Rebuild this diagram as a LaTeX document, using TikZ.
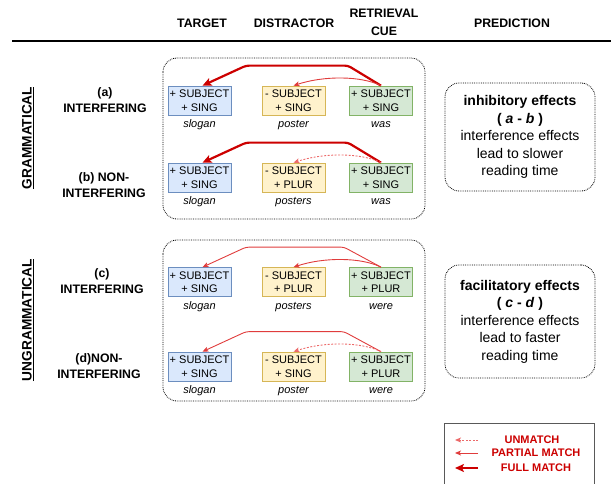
\documentclass[tikz,border=0pt]{standalone}
\usepackage{fontspec}
\setmainfont{Liberation Sans}
\usetikzlibrary{positioning,arrows.meta}

\definecolor{tgtfill}{HTML}{DAE8FC}
\definecolor{tgtline}{HTML}{6C8EBF}
\definecolor{disfill}{HTML}{FFF2CC}
\definecolor{disline}{HTML}{D6B656}
\definecolor{cuefill}{HTML}{D5E8D4}
\definecolor{cueline}{HTML}{82B366}
\definecolor{matchred}{HTML}{CC0000}
\definecolor{partred}{HTML}{E03C3C}
\definecolor{unred}{HTML}{EC6A6A}

\tikzset{
  feat/.style={draw, line width=0.7pt, minimum width=63pt, minimum height=29pt, inner sep=0pt,
    align=center, font=\fontsize{11}{13.5}\selectfont},
  tgt/.style={feat, fill=tgtfill, draw=tgtline},
  dis/.style={feat, fill=disfill, draw=disline},
  cue/.style={feat, fill=cuefill, draw=cueline},
  word/.style={font=\fontsize{11}{13}\selectfont\itshape, text height=8pt, text depth=2.5pt},
  head/.style={font=\fontsize{12.3}{18}\selectfont\bfseries, align=center},
  cond/.style={font=\fontsize{12.3}{16}\selectfont\bfseries, align=center},
  side/.style={rotate=90, font=\fontsize{13.7}{16}\selectfont\bfseries},
  group/.style={densely dotted, line width=0.8pt, rounded corners=14pt},
  pred/.style={group, draw, minimum width=150pt, align=center, font=\fontsize{14}{17.5}\selectfont},
  full/.style={draw=matchred, line width=2.2pt, rounded corners=3pt,
    -{Stealth[length=9pt,width=8pt,inset=2pt]}},
  partial/.style={draw=partred, line width=0.9pt, -{Stealth[length=6pt,width=5pt,inset=1.5pt]}},
  unmatch/.style={draw=unred, line width=0.9pt, dash pattern=on 2pt off 1.5pt,
    -{Stealth[length=6pt,width=5pt,inset=1.5pt]}},
  legtext/.style={font=\fontsize{11}{13}\selectfont\bfseries, text=matchred}
}

\begin{document}
\begin{tikzpicture}[x=1pt,y=-1pt]
  \useasboundingbox (0,0) rectangle (611,484);

  % Header
  \node[head] (htarget) at (202,23) {TARGET};
  \node[head] (hdis) at (294,23) {DISTRACTOR};
  \node[head] (hcue) at (384,22.5) {RETRIEVAL\\CUE};
  \node[head] (hpred) at (512,23) {PREDICTION};
  \draw[line width=2.5pt] (12,41) -- (611,41);

  % Side labels
  \node[side] (gram) at (28,138) {\underline{GRAMMATICAL}};
  \node[side] (ungram) at (28,320) {\underline{UNGRAMMATICAL}};
  \node[cond] (conda) at (105,100) {(a)\\INTERFERING};
  \node[cond] (condb) at (104,185.5) {(b) NON-\\INTERFERING};
  \node[cond] (condc) at (102,281.5) {(c)\\INTERFERING};
  \node[cond] (condd) at (99,366.5) {(d)NON-\\INTERFERING};

  % Grammatical
  \draw[group] (163,58) rectangle (425,219);
  \node[tgt] (ta) at (199.5,100.5) {+ SUBJECT\\+ SING};
  \node[dis] (da) at (293.5,100.5) {- SUBJECT\\+ SING};
  \node[cue] (ca) at (381,100.5) {+ SUBJECT\\+ SING};
  \node[word, below=1pt of ta] (wta) {slogan};
  \node[word, below=1pt of da] (wda) {poster};
  \node[word, below=1pt of ca] (wca) {was};
  \draw[full] (ca.north) -- ++(-33,-20) -- ++(-102,0) -- ([xshift=3]ta.north);
  \draw[partial] (ca.north) .. controls ([xshift=-20,yshift=10]ca.north) and ([xshift=30,yshift=10]da.north) .. (da.north);

  \node[tgt] (tb) at (199.5,177.5) {+ SUBJECT\\+ SING};
  \node[dis] (db) at (293.5,177.5) {- SUBJECT\\+ PLUR};
  \node[cue] (cb) at (381,177.5) {+ SUBJECT\\+ SING};
  \node[word, below=1pt of tb] (wtb) {slogan};
  \node[word, below=1pt of db] (wdb) {posters};
  \node[word, below=1pt of cb] (wcb) {was};
  \draw[full] (cb.north) -- ++(-33,-20) -- ++(-102,0) -- ([xshift=3]tb.north);
  \draw[unmatch] (cb.north) .. controls ([xshift=-20,yshift=10]cb.north) and ([xshift=30,yshift=10]db.north) .. (db.north);

  % Ungrammatical
  \draw[group] (163,240) rectangle (425,401);
  \node[tgt] (tc) at (199.5,282) {+ SUBJECT\\+ SING};
  \node[dis] (dc) at (293.5,282) {- SUBJECT\\+ PLUR};
  \node[cue] (cc) at (381,282) {+ SUBJECT\\+ PLUR};
  \node[word, below=1pt of tc] (wtc) {slogan};
  \node[word, below=1pt of dc] (wdc) {posters};
  \node[word, below=1pt of cc] (wcc) {were};
  \draw[partial, rounded corners=3pt] (cc.north) -- ++(-37,-20) -- ++(-98,0) -- ([xshift=3]tc.north);
  \draw[partial] (cc.north) .. controls ([xshift=-20,yshift=10]cc.north) and ([xshift=30,yshift=10]dc.north) .. (dc.north);

  \node[tgt] (td) at (199.5,366.5) {+ SUBJECT\\+ SING};
  \node[dis] (dd) at (293.5,366.5) {- SUBJECT\\+ SING};
  \node[cue] (cd) at (381,366.5) {+ SUBJECT\\+ PLUR};
  \node[word, below=1pt of td] (wtd) {slogan};
  \node[word, below=1pt of dd] (wdd) {poster};
  \node[word, below=1pt of cd] (wcd) {were};
  \draw[partial, rounded corners=3pt] (cd.north) -- ++(-37,-20) -- ++(-98,0) -- ([xshift=3]td.north);
  \draw[unmatch] (cd.north) .. controls ([xshift=-20,yshift=10]cd.north) and ([xshift=30,yshift=10]dd.north) .. (dd.north);

  % Predictions
  \node[pred, minimum height=108pt] (pgram) at (520,137)
    {\textbf{inhibitory effects}\\\textbf{( \textit{a} - \textit{b} )}\\interference effects\\lead to slower\\reading time};
  \node[pred, minimum height=113pt] (pungram) at (520,321.5)
    {\textbf{facilitatory effects}\\\textbf{( \textit{c} - \textit{d} )}\\interference effects\\lead to faster\\reading time};

  % Legend
  \draw[draw=black!65, line width=0.8pt] (444,490) |- (594,423) -- (594,490);
  \node[legtext] (lun) at (532,440) {UNMATCH};
  \node[legtext] (lpart) at (536,453) {PARTIAL MATCH};
  \node[legtext] (lfull) at (536,468) {FULL MATCH};
  \coordinate (un0) at (478,440);
  \coordinate (un1) at (455,440);
  \coordinate (pa0) at (478,453);
  \coordinate (pa1) at (455,453);
  \coordinate (fu0) at (478,468);
  \coordinate (fu1) at (455,468);
  \draw[unmatch] (un0) -- (un1);
  \draw[partial] (pa0) -- (pa1);
  \draw[full] (fu0) -- (fu1);
\end{tikzpicture}
\end{document}
